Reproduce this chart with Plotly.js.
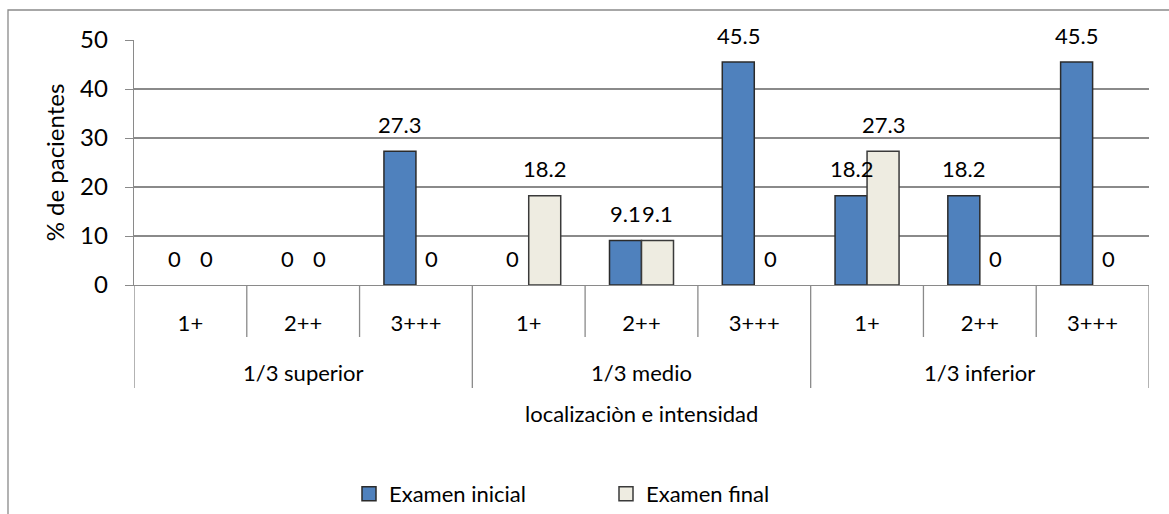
<!DOCTYPE html>
<html>
<head>
<meta charset="utf-8">
<script src="https://cdn.plot.ly/plotly-3.0.1.min.js"></script>
<style>html,body{margin:0;padding:0;background:#fff;}#chart{width:1169px;height:514px;}</style>
</head>
<body>
<div id="chart"></div>
<script>
const groups = ["1/3 superior", "1/3 medio", "1/3 inferior"];
const intensities = ["1+", "2++", "3+++"];
const examenInicial = [0, 0, 27.3, 0, 9.1, 45.5, 18.2, 18.2, 45.5];
const examenFinal   = [0, 0, 0, 18.2, 9.1, 0, 27.3, 0, 0];
const seriesNames = ["Examen inicial", "Examen final"];
const yTitle = "% de pacientes";
const xTitle = "localizaciòn e intensidad";

const FONT = "Lato, 'Open Sans', sans-serif";
const FS = 22;
const nCat = groups.length * intensities.length;
const idx = Array.from({length: nCat}, (_, i) => i);
const tickText = idx.map(i => intensities[i % intensities.length]);
const BARGAP = 0.4325;
const off = (1 - BARGAP) / 4;
const lw = arr => arr.map(v => v === 0 ? 0 : 1.5);
const colors = ['#4F81BD', '#EEECE1'];
const lineColors = ['#2b2b2b', '#3a3a3a'];

const traces = [
  {type: 'bar', name: seriesNames[0], x: idx, y: examenInicial, showlegend: false,
   marker: {color: colors[0], line: {color: lineColors[0], width: lw(examenInicial)}}, hoverinfo: 'none'},
  {type: 'bar', name: seriesNames[1], x: idx, y: examenFinal, showlegend: false,
   marker: {color: colors[1], line: {color: lineColors[1], width: lw(examenFinal)}}, hoverinfo: 'none'},
  {type: 'scatter', mode: 'markers', name: seriesNames[0], x: [null], y: [null],
   marker: {symbol: 'square', size: 14, color: colors[0], line: {color: lineColors[0], width: 1.5}}},
  {type: 'scatter', mode: 'markers', name: seriesNames[1], x: [null], y: [null],
   marker: {symbol: 'square', size: 14, color: colors[1], line: {color: lineColors[1], width: 1.5}}}
];

const annotations = [];
[examenInicial, examenFinal].forEach((arr, s) => {
  arr.forEach((v, i) => {
    annotations.push({x: i + (s === 0 ? -off : off), y: v, xref: 'x', yref: 'y',
      text: String(v), showarrow: false, yanchor: 'middle', yshift: 27,
      font: {family: FONT, size: FS, color: '#000'}});
  });
});

const plotTop = 40, plotBottom = 285, plotH = plotBottom - plotTop, plotL = 134, plotW = 1015;
const p = px => (plotBottom - px) / plotH;
const px2x = px => (px - plotL) / plotW;

groups.forEach((g, k) => {
  annotations.push({x: k * intensities.length + (intensities.length - 1) / 2, xref: 'x',
    y: p(373), yref: 'paper', text: g, showarrow: false, yanchor: 'middle',
    font: {family: FONT, size: FS, color: '#000'}});
});
annotations.push({x: 0.5, xref: 'paper', y: p(413), yref: 'paper', text: xTitle,
  showarrow: false, yanchor: 'middle', font: {family: FONT, size: FS, color: '#000'}});

const shapes = [];
for (let b = 0; b <= nCat; b++) {
  const isGroup = b % intensities.length === 0;
  shapes.push({type: 'line', xref: 'x', yref: 'paper', x0: b - 0.5, x1: b - 0.5,
    y0: 0, y1: isGroup ? p(388) : p(337), line: {color: '#8a8a8a', width: 1.3}});
}
shapes.push({type: 'rect', xref: 'paper', yref: 'paper', x0: px2x(8), x1: 1.2,
  y0: -2, y1: p(10), line: {color: '#8a8a8a', width: 1.3}, fillcolor: 'rgba(0,0,0,0)'});

const layout = {
  width: 1169, height: 514,
  margin: {l: plotL, r: 20, t: plotTop, b: 514 - plotBottom, autoexpand: false},
  paper_bgcolor: '#fff', plot_bgcolor: '#fff',
  font: {family: FONT, size: FS, color: '#000'},
  barmode: 'group', bargap: BARGAP, bargroupgap: 0,
  showlegend: true,
  legend: {orientation: 'h', x: px2x(349), xanchor: 'left', y: p(494), yanchor: 'middle',
    entrywidth: 212, entrywidthmode: 'pixels',
    font: {family: FONT, size: FS, color: '#000'}, itemwidth: 30},
  xaxis: {range: [-0.5, nCat - 0.5], tickvals: idx, ticktext: tickText, ticks: '',
    showgrid: false, zeroline: false, showline: true, linecolor: '#8a8a8a', linewidth: 1.3,
    ticklabelstandoff: 18, tickfont: {family: FONT, size: FS, color: '#000'}, fixedrange: true},
  yaxis: {range: [0, 50], dtick: 10, ticks: 'outside', ticklen: 8, tickcolor: '#8a8a8a',
    showline: true, linecolor: '#8a8a8a', linewidth: 1.3, gridcolor: '#8a8a8a', gridwidth: 1.3,
    zeroline: false, ticklabelstandoff: 12, tickfont: {family: FONT, size: 24, color: '#000'},
    title: {text: yTitle, font: {family: FONT, size: 24, color: '#000'}, standoff: 8}, fixedrange: true},
  annotations: annotations,
  shapes: shapes
};

Plotly.newPlot('chart', traces, layout, {displayModeBar: false, staticPlot: true});
</script>
</body>
</html>
